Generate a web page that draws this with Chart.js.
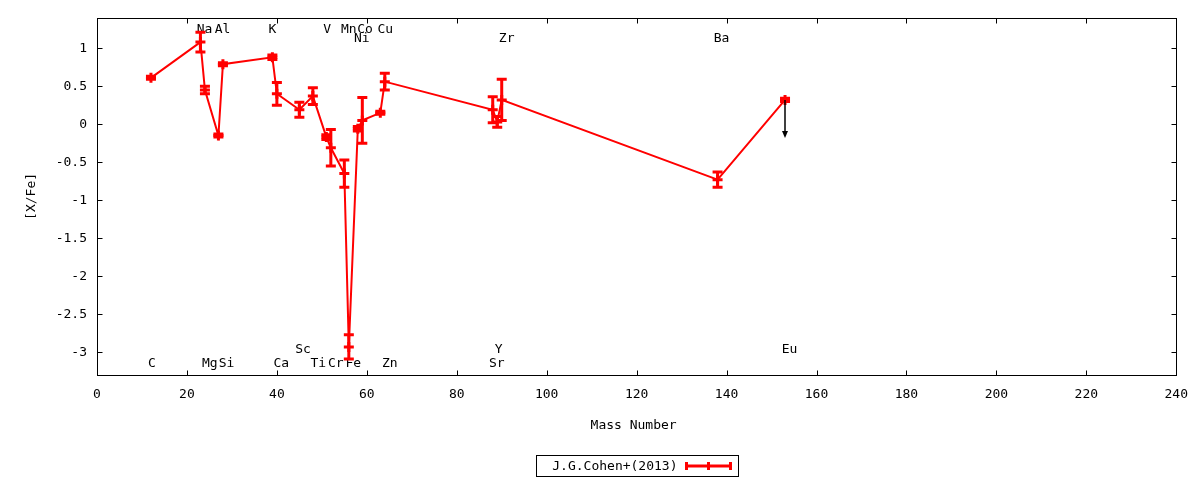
<!DOCTYPE html>
<html lang="en">
<head>
<meta charset="utf-8">
<title>[X/Fe] vs Mass Number</title>
<script src="https://cdn.jsdelivr.net/npm/chart.js@4.4.1/dist/chart.umd.min.js"></script>
<style>
  html, body { margin: 0; padding: 0; background: #fff; }
  #c { display: block; }
</style>
</head>
<body>
<canvas id="c" width="1200" height="480"></canvas>
<script>
// abundances, sorted by mass number
const massNumbers = [12, 23, 24, 27, 28, 39, 40, 45, 48, 51, 52, 55, 56, 58, 59, 63, 64, 88, 89, 90, 138, 153];
const abundances  = [0.61, 1.08, 0.45, -0.15, 0.79, 0.88, 0.40, 0.19, 0.37, -0.17, -0.31, -0.65, -2.93, -0.06, 0.05, 0.15, 0.56, 0.19, 0.03, 0.32, -0.73, 0.32];
const errors      = [0.02, 0.13, 0.05, 0.02, 0.02, 0.03, 0.15, 0.10, 0.11, 0.03, 0.24, 0.18, 0.16, 0.03, 0.30, 0.02, 0.11, 0.17, 0.07, 0.27, 0.10, 0.02];

// upper limit (Eu)
const limitMass = [153];
const limitFrom = [0.32];
const limitTo   = [-0.18];

// element names written in the plot, at data coordinates
const elementNames  = ['C', 'Na', 'Mg', 'Al', 'Si', 'K', 'Ca', 'Sc', 'Ti', 'V', 'Cr', 'Mn', 'Fe', 'Co', 'Ni', 'Cu', 'Zn', 'Sr', 'Y', 'Zr', 'Ba', 'Eu'];
const elementLabelX = [12.2, 23.9, 25.1, 27.9, 28.8, 39.0, 41.0, 45.8, 49.2, 51.2, 53.1, 56.0, 57.0, 59.6, 58.9, 64.1, 65.1, 88.9, 89.3, 91.1, 138.9, 154.0];
const elementLabelY = [-3.15, 1.25, -3.15, 1.25, -3.15, 1.25, -3.15, -2.97, -3.15, 1.25, -3.15, 1.25, -3.15, 1.25, 1.12, 1.25, -3.15, -3.15, -2.97, 1.12, 1.12, -2.97];

const xTicks = [0, 20, 40, 60, 80, 100, 120, 140, 160, 180, 200, 220, 240];
const yTicks = [-3, -2.5, -2, -1.5, -1, -0.5, 0, 0.5, 1];

const seriesName = 'J.G.Cohen+(2013)';
const red = '#ff0000';
const FONT = '13px "DejaVu Sans Mono", "Liberation Mono", monospace';

const points = massNumbers.map((m, i) => ({ x: m, y: abundances[i] }));

// gnuplot-like frame, inward ticks, texts, error bars, arrow, legend
const gnuplotLook = {
  id: 'gnuplotLook',
  beforeDatasetsDraw(chart) {
    const ctx = chart.ctx;
    const xs = chart.scales.x, ys = chart.scales.y;
    ctx.save();
    ctx.fillStyle = '#000';
    ctx.font = FONT;
    ctx.textAlign = 'center';
    ctx.textBaseline = 'middle';
    for (let i = 0; i < elementNames.length; i++) {
      ctx.fillText(elementNames[i], xs.getPixelForValue(elementLabelX[i]), ys.getPixelForValue(elementLabelY[i]));
    }

    // error bars
    ctx.strokeStyle = red;
    ctx.lineWidth = 3;
    for (let i = 0; i < massNumbers.length; i++) {
      const px = xs.getPixelForValue(massNumbers[i]);
      const top = ys.getPixelForValue(abundances[i] + errors[i]);
      const bot = ys.getPixelForValue(abundances[i] - errors[i]);
      ctx.beginPath();
      ctx.moveTo(px, top); ctx.lineTo(px, bot);
      ctx.moveTo(px - 5, top); ctx.lineTo(px + 5, top);
      ctx.moveTo(px - 5, bot); ctx.lineTo(px + 5, bot);
      ctx.stroke();
    }
    ctx.restore();
  },
  afterDatasetsDraw(chart) {
    const ctx = chart.ctx, a = chart.chartArea;
    const xs = chart.scales.x, ys = chart.scales.y;
    ctx.save();

    // upper limit arrows
    ctx.strokeStyle = '#000';
    ctx.fillStyle = '#000';
    ctx.lineWidth = 1.5;
    for (let i = 0; i < limitMass.length; i++) {
      const px = Math.round(xs.getPixelForValue(limitMass[i]));
      const y0 = ys.getPixelForValue(limitFrom[i]);
      const y1 = ys.getPixelForValue(limitTo[i]);
      ctx.beginPath();
      ctx.moveTo(px, y0); ctx.lineTo(px, y1 - 6);
      ctx.stroke();
      ctx.beginPath();
      ctx.moveTo(px - 3, y1 - 7); ctx.lineTo(px + 3, y1 - 7); ctx.lineTo(px, y1);
      ctx.closePath();
      ctx.fill();
    }

    // frame and inward ticks
    ctx.strokeStyle = '#000';
    ctx.lineWidth = 1;
    const L = Math.round(a.left) + 0.5, R = Math.round(a.right) + 0.5;
    const T = Math.round(a.top) + 0.5, B = Math.round(a.bottom) + 0.5;
    ctx.strokeRect(L, T, R - L, B - T);
    ctx.beginPath();
    xTicks.forEach(v => {
      const px = Math.round(xs.getPixelForValue(v)) + 0.5;
      ctx.moveTo(px, B); ctx.lineTo(px, B - 5);
      ctx.moveTo(px, T); ctx.lineTo(px, T + 5);
    });
    yTicks.forEach(v => {
      const py = Math.round(ys.getPixelForValue(v)) + 0.5;
      ctx.moveTo(L, py); ctx.lineTo(L + 5, py);
      ctx.moveTo(R, py); ctx.lineTo(R - 5, py);
    });
    ctx.stroke();

    // axis titles
    ctx.fillStyle = '#000';
    ctx.font = FONT;
    ctx.textAlign = 'center';
    ctx.textBaseline = 'middle';
    const cx = (a.left + a.right) / 2;
    ctx.fillText('Mass Number', cx - 3, a.bottom + 51);
    ctx.save();
    ctx.translate(32, (a.top + a.bottom) / 2);
    ctx.rotate(-Math.PI / 2);
    ctx.fillText('[X/Fe]', 0, 0);
    ctx.restore();

    // legend box
    const bw = 202, bh = 21;
    const bx = Math.round(cx - bw / 2) + 0.5, by = Math.round(a.bottom + 80) + 0.5;
    ctx.strokeRect(bx, by, bw, bh);
    ctx.textAlign = 'right';
    ctx.fillText(seriesName, bx + 141, by + bh / 2 + 1);
    const ly = by + bh / 2;
    const lx0 = bx + 150, lx1 = bx + 194;
    ctx.strokeStyle = red;
    ctx.lineWidth = 3;
    ctx.beginPath();
    ctx.moveTo(lx0, ly); ctx.lineTo(lx1, ly);
    ctx.moveTo(lx0, ly - 4); ctx.lineTo(lx0, ly + 4);
    ctx.moveTo(lx1, ly - 4); ctx.lineTo(lx1, ly + 4);
    ctx.moveTo((lx0 + lx1) / 2, ly - 4); ctx.lineTo((lx0 + lx1) / 2, ly + 4);
    ctx.stroke();
    ctx.restore();
  }
};

new Chart(document.getElementById('c').getContext('2d'), {
  type: 'scatter',
  data: {
    datasets: [{
      label: seriesName,
      data: points,
      showLine: true,
      borderColor: red,
      backgroundColor: red,
      borderWidth: 2,
      tension: 0,
      pointStyle: 'cross',
      pointRadius: 5,
      pointBorderWidth: 3,
      pointBorderColor: red,
      pointHoverRadius: 5
    }]
  },
  options: {
    responsive: false,
    devicePixelRatio: 1,
    animation: false,
    events: [],
    layout: { padding: { top: 17, right: 23, left: 0, bottom: 0 } },
    plugins: {
      legend: { display: false },
      tooltip: { enabled: false }
    },
    scales: {
      x: {
        type: 'linear',
        min: 0,
        max: 240,
        grid: { display: false, drawTicks: false },
        border: { display: false },
        ticks: {
          stepSize: 20,
          padding: 12,
          color: '#000',
          font: { family: '"DejaVu Sans Mono", monospace', size: 13 },
          maxRotation: 0
        },
        afterBuildTicks(scale) {
          scale.ticks = xTicks.map(v => ({ value: v }));
        },
        afterFit(scale) { scale.height = 105; }
      },
      y: {
        type: 'linear',
        min: -3.3,
        max: 1.4,
        grid: { display: false, drawTicks: false },
        border: { display: false },
        ticks: {
          padding: 10,
          color: '#000',
          font: { family: '"DejaVu Sans Mono", monospace', size: 13 },
          callback: v => String(Math.round(v * 10) / 10)
        },
        afterBuildTicks(scale) {
          scale.ticks = yTicks.map(v => ({ value: v }));
        },
        afterFit(scale) { scale.width = 97; }
      }
    }
  },
  plugins: [gnuplotLook]
});
</script>
</body>
</html>
